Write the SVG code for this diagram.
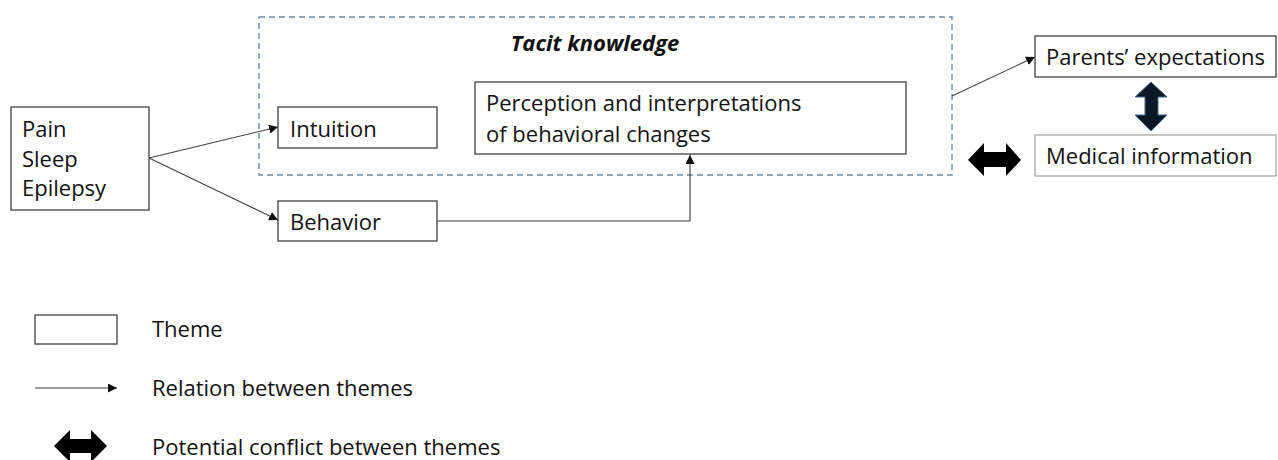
<svg xmlns="http://www.w3.org/2000/svg" width="1278" height="460" viewBox="0 0 1278 460">
<defs>
<style>
.box{fill:#fff;stroke:#404040;stroke-width:1.3}
.lbox{fill:#fff;stroke:#a0a0a0;stroke-width:1.2}
.t{font-family:"Open Sans","Liberation Sans",sans-serif;font-size:22px;fill:#111}
.tb{font-family:"Open Sans","Liberation Sans",sans-serif;font-size:22px;font-weight:bold;font-style:italic;fill:#111}
.con{fill:none;stroke:#404040;stroke-width:1.1}
.dash{fill:none;stroke:#6a8cab;stroke-width:1.4;stroke-dasharray:6,4}
</style>
<marker id="ah" viewBox="0 0 10 10" refX="10" refY="5" markerWidth="9" markerHeight="9" markerUnits="userSpaceOnUse" orient="auto">
<path d="M0,0 L10,5 L0,10 z" fill="#111"/>
</marker>
</defs>
<rect width="1278" height="460" fill="#fff"/>
<g id="tacit">
<rect class="dash" x="259" y="17" width="693" height="158"/>
<text class="tb" x="595" y="51" text-anchor="middle">Tacit knowledge</text>
</g>
<g id="connectors">
<line class="con" x1="149" y1="158" x2="278" y2="127" marker-end="url(#ah)"/>
<line class="con" x1="149" y1="158" x2="278" y2="220" marker-end="url(#ah)"/>
<polyline class="con" points="437,221 690,221 690,155" marker-end="url(#ah)"/>
<line class="con" x1="952" y1="96" x2="1035" y2="57" marker-end="url(#ah)"/>
</g>
<g id="pse">
<rect class="box" x="11" y="107" width="138" height="103"/>
<text class="t" x="22" y="137">Pain</text>
<text class="t" x="22" y="167">Sleep</text>
<text class="t" x="22" y="196">Epilepsy</text>
</g>
<g id="intuition">
<rect class="box" x="278" y="107" width="159" height="41"/>
<text class="t" x="290" y="137">Intuition</text>
</g>
<g id="behavior">
<rect class="box" x="278" y="201" width="159" height="40"/>
<text class="t" x="290" y="230">Behavior</text>
</g>
<g id="perception">
<rect class="box" x="475" y="82" width="431" height="72"/>
<text class="t" x="486" y="111">Perception and interpretations</text>
<text class="t" x="486" y="142">of behavioral changes</text>
</g>
<g id="parents">
<rect class="box" x="1035" y="36" width="241" height="41"/>
<text class="t" x="1046" y="65">Parents’ expectations</text>
</g>
<g id="medical">
<rect class="lbox" x="1035" y="135" width="241" height="41"/>
<text class="t" x="1046" y="164">Medical information</text>
</g>
<g id="conflict-vertical">
<path d="M1151,82 L1167,97 L1158,97 L1158,115 L1167,115 L1151,131 L1135,115 L1145,115 L1145,97 L1135,97 Z" fill="#0d1826" stroke="#3d6a93" stroke-width="1"/>
</g>
<g id="conflict-horizontal">
<path d="M968,160 L984,143 L984,152 L1006,152 L1006,143 L1021,160 L1006,176 L1006,167 L984,167 L984,176 Z" fill="#000"/>
</g>
<g id="legend">
<rect class="box" x="35" y="315" width="82" height="29"/>
<text class="t" x="152" y="337">Theme</text>
<line class="con" x1="35" y1="388" x2="117" y2="388" marker-end="url(#ah)"/>
<text class="t" x="152" y="396">Relation between themes</text>
<path d="M54,446 L70,430 L70,439 L91,439 L91,430 L107,446 L91,462 L91,453 L70,453 L70,462 Z" fill="#000"/>
<text class="t" x="152" y="455">Potential conflict between themes</text>
</g>
</svg>
